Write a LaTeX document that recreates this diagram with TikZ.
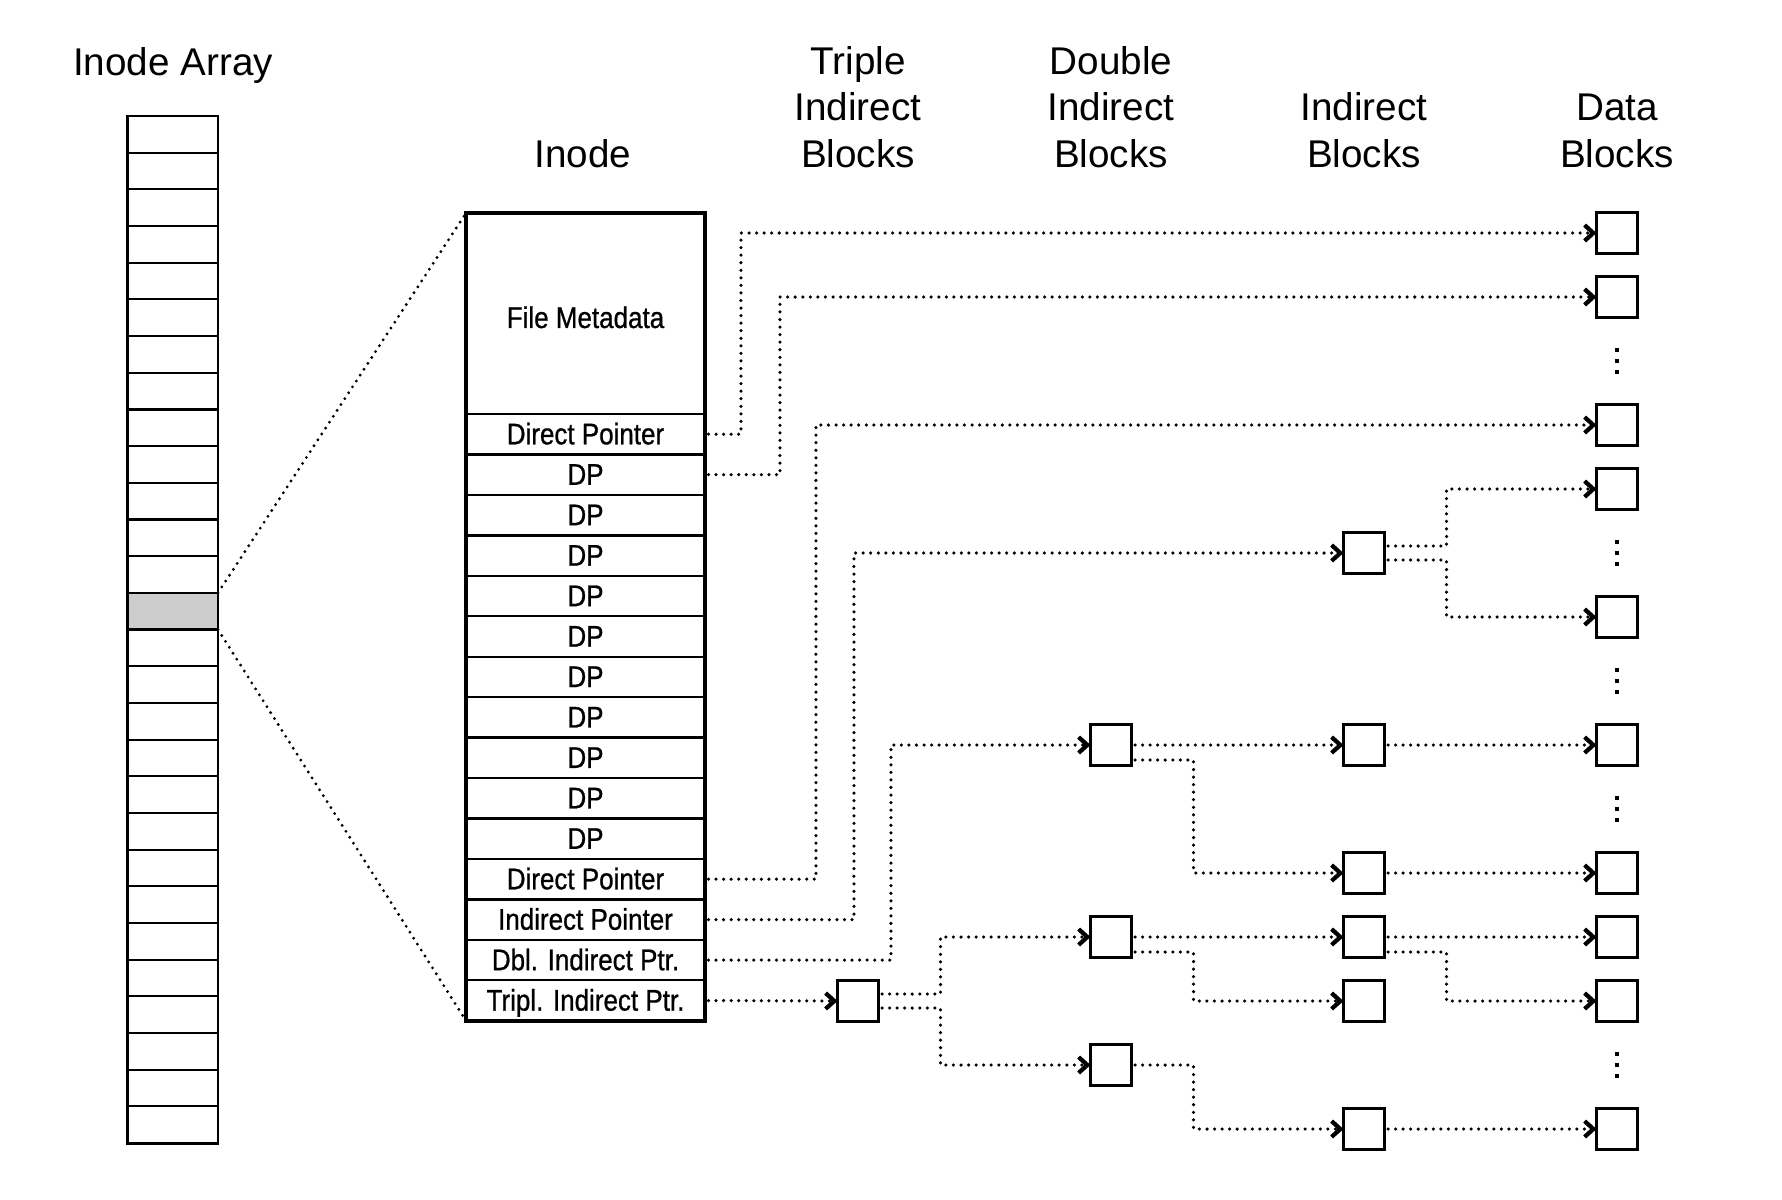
\documentclass[tikz,border=0pt]{standalone}
\usepackage{fontspec}
\setmainfont{Liberation Sans}
\newfontfamily\condfont[FakeStretch=0.87,FakeBold=0.8]{Liberation Sans}
\usetikzlibrary{arrows.meta}

\begin{document}
\begin{tikzpicture}[x=0.02cm,y=-0.02cm,line cap=round,
% Styles
heading/.style={font=\fontsize{22}{26.4}\selectfont,align=center,anchor=base,inner sep=0pt},
cell/.style={draw,line width=1.2pt,minimum width=1.82cm,minimum height=0.7336cm,inner sep=0pt,outer sep=0pt},
field/.style={draw,line width=1.3pt,minimum width=4.78cm,minimum height=0.809cm,inner sep=0pt,outer sep=0pt,
  text height=1.25em,text depth=0.1em,font=\condfont\fontsize{17}{20}\selectfont},
block/.style={draw,line width=2pt,minimum size=0.82cm,inner sep=0pt,outer sep=0pt},
link/.style={line width=2pt,dash pattern=on 0pt off 4.3pt,shorten <=2pt},
ptr/.style={link,-{Straight Barb[length=5pt,width=9pt,line width=2.4pt]}},
fan/.style={line width=1.8pt,dash pattern=on 0pt off 4pt}]
% Local definitions
\def\colT{858}
\def\colB{1111}
\def\colI{1364}
\def\colD{1617}
% Colors
\colorlet{cellgray}{gray!40}
\useasboundingbox (0,0) rectangle (1782,1200);

% headings
\node[heading] (harray) at (173,75) {Inode Array};
\node[heading] (hinode) at (583,167) {Inode};
\node[heading] (htriple) at (\colT,167) {Triple\\Indirect\\Blocks};
\node[heading] (hdouble) at (\colB,167) {Double\\Indirect\\Blocks};
\node[heading] (hind) at (\colI,167) {Indirect\\Blocks};
\node[heading] (hdata) at (\colD,167) {Data\\Blocks};

% inode array
\foreach \i [evaluate=\i as \g using {int(\i==13 ? 40 : 0)}] in {0,...,27}
    \node[cell,fill=gray!\g] (a\i) at (172.5,{116+36.68*(\i+0.5)}) {};
\draw[line width=1.7pt] (a0.north west) rectangle (a27.south east);

% inode
\node[field,minimum height=4.02cm,text height=1.75em] (meta) at (585.5,313.5) {File Metadata};
\foreach \i/\t in {0/Direct Pointer,1/DP,2/DP,3/DP,4/DP,5/DP,6/DP,7/DP,8/DP,9/DP,10/DP,
    11/Direct Pointer,12/Indirect Pointer,13/Dbl. Indirect Ptr.,14/Tripl. Indirect Ptr.}
    \node[field] (r\i) at (585.5,{414+40.45*(\i+0.5)}) {\t};
\draw[line width=2pt] (meta.north west) rectangle (r14.south east);
\draw[fan] (a13.north east) -- (meta.north west);
\draw[fan] (a13.south east) -- (r14.south west);

% blocks
\node[block] (t12) at (\colT,{233+64*12}) {};
\foreach \k in {8,11,13}
    \node[block] (b\k) at (\colB,{233+64*\k}) {};
\foreach \k in {5,8,10,11,12,14}
    \node[block] (i\k) at (\colI,{233+64*\k}) {};
\foreach \k in {0,1,3,4,6,8,10,11,12,14}
    \node[block] (d\k) at (\colD,{233+64*\k}) {};
\foreach \k in {2,5,7,9,13}
    \foreach \o in {-11,0,11}
        \fill (\colD-2,{233+64*\k+\o-2}) rectangle ++(4,4);

% pointers from the inode
\draw[ptr] (r0.east) -- ++(36,0) |- (d0.west);
\draw[ptr] (r1.east) -- ++(75,0) |- (d1.west);
\draw[ptr] (r11.east) -- ++(111,0) |- (d3.west);
\draw[ptr] (r12.east) -- ++(149,0) |- (i5.west);
\draw[ptr] (r13.east) -- ++(186,0) |- (b8.west);
\draw[ptr] (r14.east) -- (t12.west);

% triple indirect
\draw[ptr] ([yshift=0.14cm]t12.east) -- ++(62,0) |- (b11.west);
\draw[ptr] ([yshift=-0.14cm]t12.east) -- ++(62,0) |- (b13.west);

% double indirect
\draw[ptr] (b8.east) -- (i8.west);
\draw[ptr] ([yshift=-0.3cm]b8.east) -- ++(62,0) |- (i10.west);
\draw[ptr] (b11.east) -- (i11.west);
\draw[ptr] ([yshift=-0.3cm]b11.east) -- ++(62,0) |- (i12.west);
\draw[ptr] (b13.east) -- ++(62,0) |- (i14.west);

% indirect
\draw[ptr] ([yshift=0.14cm]i5.east) -- ++(62,0) |- (d4.west);
\draw[ptr] ([yshift=-0.14cm]i5.east) -- ++(62,0) |- (d6.west);
\draw[ptr] (i8.east) -- (d8.west);
\draw[ptr] (i10.east) -- (d10.west);
\draw[ptr] (i11.east) -- (d11.west);
\draw[ptr] ([yshift=-0.3cm]i11.east) -- ++(62,0) |- (d12.west);
\draw[ptr] (i14.east) -- (d14.west);
\end{tikzpicture}
\end{document}
